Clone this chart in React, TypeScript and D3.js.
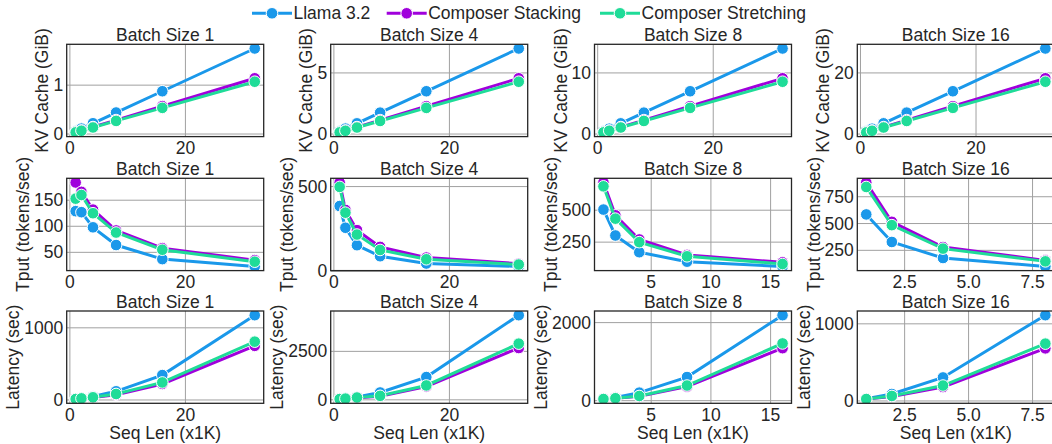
import React, { useEffect, useRef } from 'react';
import * as d3 from 'd3';

// sequence lengths (x1K) and batch sizes
const seqLens = [1, 2, 4, 8, 16, 32];
const batchSizes = [1, 4, 8, 16];
// how many seq lens got a tput / latency run per batch size
const runCounts = [6, 6, 5, 4];

const seriesNames = ['Llama 3.2', 'Composer Stacking', 'Composer Stretching'];
const seriesColors = ['#1a98ea', '#a000dc', '#1fdc98'];

// KV cache (GiB), one row per batch size
const kvLlama = [
    [0.055, 0.11, 0.22, 0.44, 0.875, 1.75],
    [0.22, 0.44, 0.875, 1.75, 3.5, 7.0],
    [0.44, 0.875, 1.75, 3.5, 7.0, 14.0],
    [0.875, 1.75, 3.5, 7.0, 14.0, 28.0],
];
const kvStack = [
    [0.036, 0.071, 0.143, 0.285, 0.57, 1.14],
    [0.143, 0.285, 0.57, 1.14, 2.28, 4.56],
    [0.285, 0.57, 1.14, 2.28, 4.56, 9.12],
    [0.57, 1.14, 2.28, 4.56, 9.12, 18.24],
];
const kvStretch = [
    [0.033, 0.067, 0.134, 0.268, 0.535, 1.07],
    [0.134, 0.268, 0.535, 1.07, 2.14, 4.28],
    [0.268, 0.535, 1.07, 2.14, 4.28, 8.56],
    [0.535, 1.07, 2.14, 4.28, 8.56, 17.12],
];

// throughput (tokens/sec)
const tputLlama = [
    [129, 127, 98, 64, 37, 23],
    [385, 257, 154, 89, 46, 29],
    [505, 302, 171, 97, 60],
    [585, 328, 178, 100],
];
const tputStack = [
    [184, 166, 132, 92, 58, 35],
    [524, 362, 243, 144, 81, 45],
    [717, 460, 271, 150, 92],
    [883, 516, 281, 156],
];
const tputStretch = [
    [153, 160, 125, 88, 55, 32],
    [498, 346, 217, 126, 71, 40],
    [687, 434, 250, 139, 79],
    [841, 485, 266, 147],
];

// latency (sec)
const latLlama = [
    [15, 25, 48, 120, 345, 1175],
    [45, 75, 150, 380, 1175, 4365],
    [45, 80, 205, 605, 2190],
    [28, 90, 305, 1112],
];
const latStack = [
    [12, 20, 34, 72, 222, 750],
    [38, 58, 112, 190, 690, 2672],
    [40, 60, 110, 360, 1345],
    [24, 58, 180, 682],
];
const latStretch = [
    [13, 22, 37, 83, 243, 808],
    [40, 62, 120, 207, 742, 2897],
    [42, 62, 120, 388, 1466],
    [25, 65, 200, 743],
];

// tick values per column
const kvTicks = [[0, 1], [0, 5], [0, 10], [0, 20]];
const tputTicks = [[50, 100, 150], [0, 500], [250, 500], [250, 500, 750]];
const latTicks = [[0, 1000], [0, 2500], [0, 2000], [0, 1000]];
const xTicksFull = [0, 20];
const xTicksRun = [[0, 20], [0, 20], [5, 10, 15], [2.5, 5, 7.5]];

const W = 1052;
const H = 444;
const colLefts = [66.7, 330.7, 594.5, 857.3];
const rowTops = [44.3, 178.3, 311];
const panelW = 197;
const panelH = 92.3;
const FONT = '"Liberation Sans", Arial, Helvetica, sans-serif';
const FS = 17.5;
const TXT = '#262626';

// matplotlib style 5% padding
const paddedDomain = (vals) => {
    const [lo, hi] = d3.extent(vals);
    const m = (hi - lo) * 0.05;
    return [lo - m, hi + m];
};

const drawPanel = (svg, defs, o) => {
    const g = svg.append('g').attr('transform', `translate(${o.left},${o.top})`);
    const x = d3.scaleLinear().domain(paddedDomain(o.xs)).range([0, panelW]);
    const y = d3.scaleLinear().domain(paddedDomain(o.series.flat())).range([panelH, 0]);

    defs.append('clipPath').attr('id', o.id)
        .append('rect').attr('width', panelW).attr('height', panelH);

    // grid
    g.selectAll('.vg').data(o.xTicks).enter().append('line')
        .attr('x1', (d) => x(d)).attr('x2', (d) => x(d))
        .attr('y1', 0).attr('y2', panelH)
        .attr('stroke', '#a0a0a0').attr('stroke-width', 1);
    g.selectAll('.hg').data(o.yTicks).enter().append('line')
        .attr('y1', (d) => y(d)).attr('y2', (d) => y(d))
        .attr('x1', 0).attr('x2', panelW)
        .attr('stroke', '#a0a0a0').attr('stroke-width', 1);

    // series: line then markers, one after another
    const plot = g.append('g').attr('clip-path', `url(#${o.id})`);
    o.series.forEach((vals, si) => {
        const line = d3.line().x((d, i) => x(o.xs[i])).y((d) => y(d));
        plot.append('path')
            .attr('d', line(vals))
            .attr('fill', 'none')
            .attr('stroke', seriesColors[si])
            .attr('stroke-width', 3);
        plot.selectAll(`.m${si}`).data(vals).enter().append('circle')
            .attr('cx', (d, i) => x(o.xs[i]))
            .attr('cy', (d) => y(d))
            .attr('r', 5.8)
            .attr('fill', seriesColors[si])
            .attr('stroke', '#fff')
            .attr('stroke-width', 1);
    });

    // frame
    g.append('rect').attr('width', panelW).attr('height', panelH)
        .attr('fill', 'none').attr('stroke', TXT).attr('stroke-width', 1.3);

    // tick labels
    const yLabs = g.selectAll('.yt').data(o.yTicks).enter().append('text')
        .attr('x', -3.5).attr('y', (d) => y(d)).attr('dy', '0.35em')
        .attr('text-anchor', 'end')
        .text((d) => d3.format('d')(d));
    g.selectAll('.xt').data(o.xTicks).enter().append('text')
        .attr('x', (d) => x(d)).attr('y', panelH + 17.2)
        .attr('text-anchor', 'middle')
        .text((d) => o.xFmt(d));

    let maxW = 0;
    yLabs.each(function () { maxW = Math.max(maxW, this.getComputedTextLength()); });

    // title
    g.append('text').attr('x', panelW / 2).attr('y', -3.5)
        .attr('text-anchor', 'middle').text(o.title);

    // y label
    g.append('text')
        .attr('transform', `translate(${-3.5 - maxW - 5},${panelH / 2}) rotate(-90)`)
        .attr('text-anchor', 'middle').text(o.yLabel);

    if (o.xLabel) {
        g.append('text').attr('x', panelW / 2).attr('y', panelH + 35.8)
            .attr('text-anchor', 'middle').text(o.xLabel);
    }
};

const drawLegend = (svg) => {
    const starts = [252, 386.7, 600];
    const cy = 13.3;
    seriesNames.forEach((name, i) => {
        const g = svg.append('g').attr('transform', `translate(${starts[i]},${cy})`);
        g.append('line').attr('x1', 0).attr('x2', 40).attr('y1', 0).attr('y2', 0)
            .attr('stroke', seriesColors[i]).attr('stroke-width', 3);
        g.append('circle').attr('cx', 20).attr('cy', 0).attr('r', 5.8)
            .attr('fill', seriesColors[i]).attr('stroke', '#fff').attr('stroke-width', 1);
        g.append('text').attr('x', 41.5).attr('y', 0).attr('dy', '0.35em').text(name);
    });
};

const App = () => {
    const ref = useRef(null);

    useEffect(() => {
        document.body.style.margin = '0';
        const svg = d3.select(ref.current);
        svg.selectAll('*').remove();
        svg.attr('font-family', FONT).attr('font-size', FS).attr('fill', TXT);
        const defs = svg.append('defs');

        const rows = [
            { yLabel: 'KV Cache (GiB)', data: [kvLlama, kvStack, kvStretch], ticks: kvTicks, full: true },
            { yLabel: 'Tput (tokens/sec)', data: [tputLlama, tputStack, tputStretch], ticks: tputTicks, full: false },
            { yLabel: 'Latency (sec)', data: [latLlama, latStack, latStretch], ticks: latTicks, full: false },
        ];

        rows.forEach((row, r) => {
            batchSizes.forEach((b, c) => {
                const n = row.full ? seqLens.length : runCounts[c];
                const xs = seqLens.slice(0, n);
                const xTicks = row.full ? xTicksFull : xTicksRun[c];
                const xFmt = (!row.full && c === 3) ? d3.format('.1f') : d3.format('d');
                drawPanel(svg, defs, {
                    id: `clip-${r}-${c}`,
                    left: colLefts[c],
                    top: rowTops[r],
                    xs,
                    series: row.data.map((s) => s[c]),
                    yTicks: row.ticks[c],
                    xTicks,
                    xFmt,
                    title: `Batch Size ${b}`,
                    yLabel: row.yLabel,
                    xLabel: r === 2 ? 'Seq Len (x1K)' : null,
                });
            });
        });

        drawLegend(svg);
    }, []);

    return (
        <svg ref={ref} width={W} height={H} style={{ display: 'block', background: '#fff' }} />
    );
};

export default App;
